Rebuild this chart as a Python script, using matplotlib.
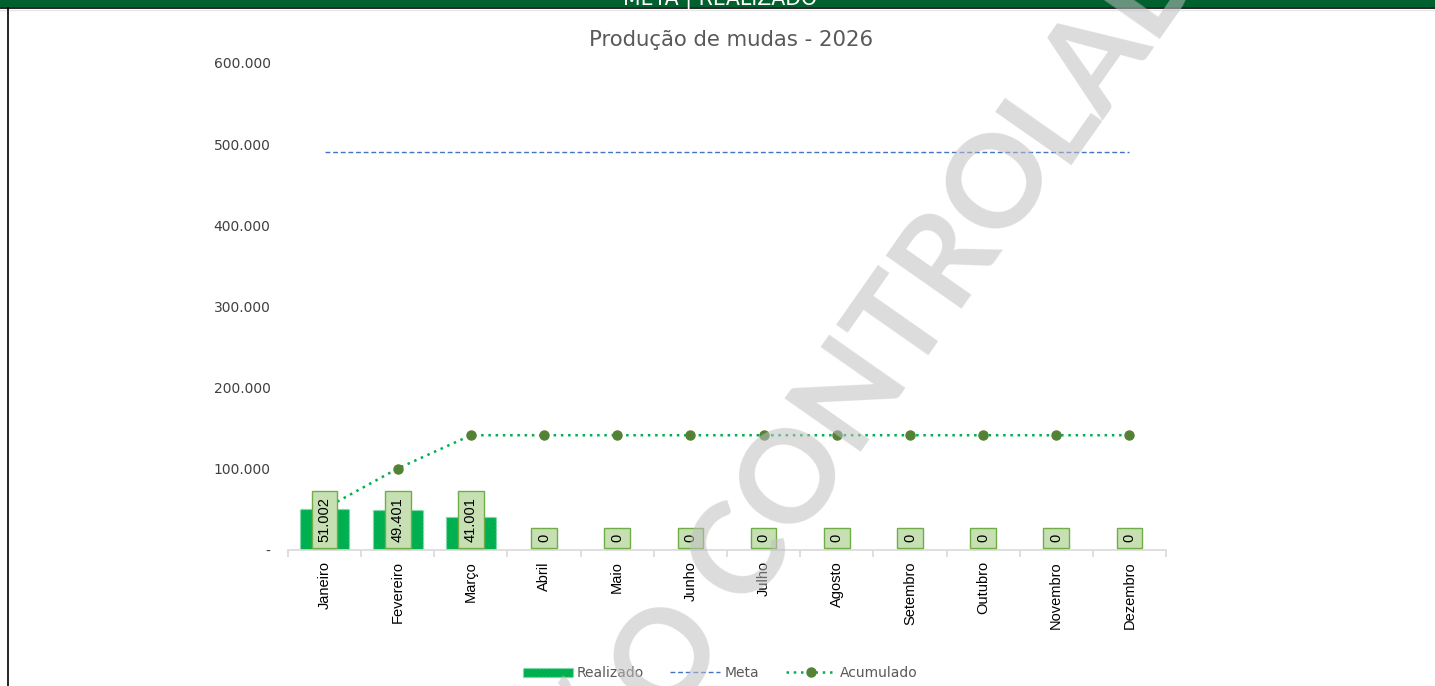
import matplotlib
matplotlib.use("Agg")
import matplotlib.pyplot as plt
from matplotlib.ticker import FuncFormatter, FixedLocator
from matplotlib.lines import Line2D
from matplotlib.patches import Patch, Rectangle

# ---- data ----
months = ["Janeiro", "Fevereiro", "Março", "Abril", "Maio", "Junho", "Julho",
          "Agosto", "Setembro", "Outubro", "Novembro", "Dezembro"]
realizado = [51002, 49401, 41001, 0, 0, 0, 0, 0, 0, 0, 0, 0]
meta = [490000] * 12
acumulado = [51002, 100403, 141404, 141404, 141404, 141404, 141404,
             141404, 141404, 141404, 141404, 141404]
yticks = [0, 100000, 200000, 300000, 400000, 500000, 600000]
title = "Produção de mudas - 2026"
header = "META | REALIZADO"
watermark_left = "CÓPIA NÃO CONTRO"
watermark_right = "LADA"

W, H = 1435, 686
fig = plt.figure(figsize=(W / 100, H / 100), dpi=100)
fig.patch.set_facecolor("white")

ax = fig.add_axes([288 / W, 1 - 550 / H, 878 / W, 487 / H])
x = list(range(len(months)))

ax.bar(x, realizado, width=0.68, color="#00B050", edgecolor="#7fd9a7",
       linewidth=1.0, linestyle=":", zorder=2)
ax.plot(x, meta, color="#4472C4", linestyle=(0, (3.5, 2)), linewidth=1.0, zorder=3)
ax.plot(x, acumulado, color="#00B050", linestyle=(0, (1, 1.9)), linewidth=1.8,
        marker="o", markersize=6.5, markerfacecolor="#548235",
        markeredgecolor="#548235", zorder=3)

for xi, v in zip(x, realizado):
    lbl = f"{v:,}".replace(",", ".")
    ax.annotate(lbl, xy=(xi, 0), xytext=(0, 6), textcoords="offset points",
                rotation=90, ha="center", va="bottom", fontsize=10.5,
                family="Liberation Sans", color="#000000", zorder=5,
                bbox=dict(boxstyle="square,pad=0.4", facecolor="#C6E0B4",
                          edgecolor="#70AD47", linewidth=1.0))

ax.set_xlim(-0.5, 11.5)
ax.set_ylim(0, 600000)
ax.set_yticks(yticks)
ax.yaxis.set_major_formatter(FuncFormatter(
    lambda v, p: "-" if v == 0 else f"{int(v):,}".replace(",", ".")))
ax.tick_params(axis="y", length=0, pad=12.5, labelsize=10, labelcolor="#404040")
ax.set_xticks(x)
ax.set_xticklabels(months, rotation=90, fontsize=10.5, color="#000000",
                   family="Liberation Sans")
ax.tick_params(axis="x", which="major", length=0, pad=8)
ax.xaxis.set_minor_locator(FixedLocator([i - 0.5 for i in range(13)]))
ax.tick_params(axis="x", which="minor", length=5, color="#D9D9D9", width=1.2)
for s in ["top", "right", "left"]:
    ax.spines[s].set_visible(False)
ax.spines["bottom"].set_color("#D9D9D9")
ax.spines["bottom"].set_linewidth(1.2)
ax.set_facecolor("none")

fig.text(731 / W, 1 - 40 / H, title, ha="center", va="center", fontsize=15.3,
         color="#595959")

handles = [Patch(facecolor="#00B050", edgecolor="#7fd9a7", linestyle=":"),
           Line2D([], [], color="#4472C4", linestyle=(0, (3.5, 2)), linewidth=1.0),
           Line2D([], [], color="#00B050", linestyle=(0, (1, 1.9)), linewidth=1.8,
                  marker="o", markersize=6.5, markerfacecolor="#548235",
                  markeredgecolor="#548235")]
leg = fig.legend(handles, ["Realizado", "Meta", "Acumulado"], loc="center",
                 bbox_to_anchor=(720 / W, 1 - 673 / H), ncol=3, frameon=False,
                 fontsize=10, handlelength=3.6, handleheight=0.6,
                 columnspacing=1.9, handletextpad=0.3)
for t in leg.get_texts():
    t.set_color("#595959")

# header bar and border
fig.add_artist(Rectangle((0, 1 - 7 / H), 1, 7 / H, transform=fig.transFigure,
                         facecolor="#00612E", edgecolor="none", zorder=10))
fig.add_artist(Line2D([0, 1], [1 - 7.5 / H, 1 - 7.5 / H], transform=fig.transFigure,
                      color="#000000", linewidth=1.2, zorder=11))
fig.add_artist(Line2D([0, 1], [1 - 9.5 / H, 1 - 9.5 / H], transform=fig.transFigure,
                      color="#E6E6E6", linewidth=1.0, zorder=11))
fig.text(720 / W, 1 - 4 / H, header, ha="center", va="baseline", fontsize=14.8,
         color="white", zorder=12)
fig.add_artist(Line2D([7.5 / W, 7.5 / W], [0, 1 - 8 / H], transform=fig.transFigure,
                      color="#000000", linewidth=1.2, zorder=11))

# watermark
wm_kw = dict(rotation=55, rotation_mode="anchor", va="baseline", fontsize=92,
             fontweight="bold", family=["Liberation Sans Narrow", "Lato"],
             color="#bfbfbf", alpha=0.55, zorder=20)
fig.text(1062 / W, 1 - 165 / H, watermark_left, ha="right", **wm_kw)
fig.text(1062 / W, 1 - 165 / H, watermark_right, ha="left", **wm_kw)

fig.savefig("out.png", dpi=100)
